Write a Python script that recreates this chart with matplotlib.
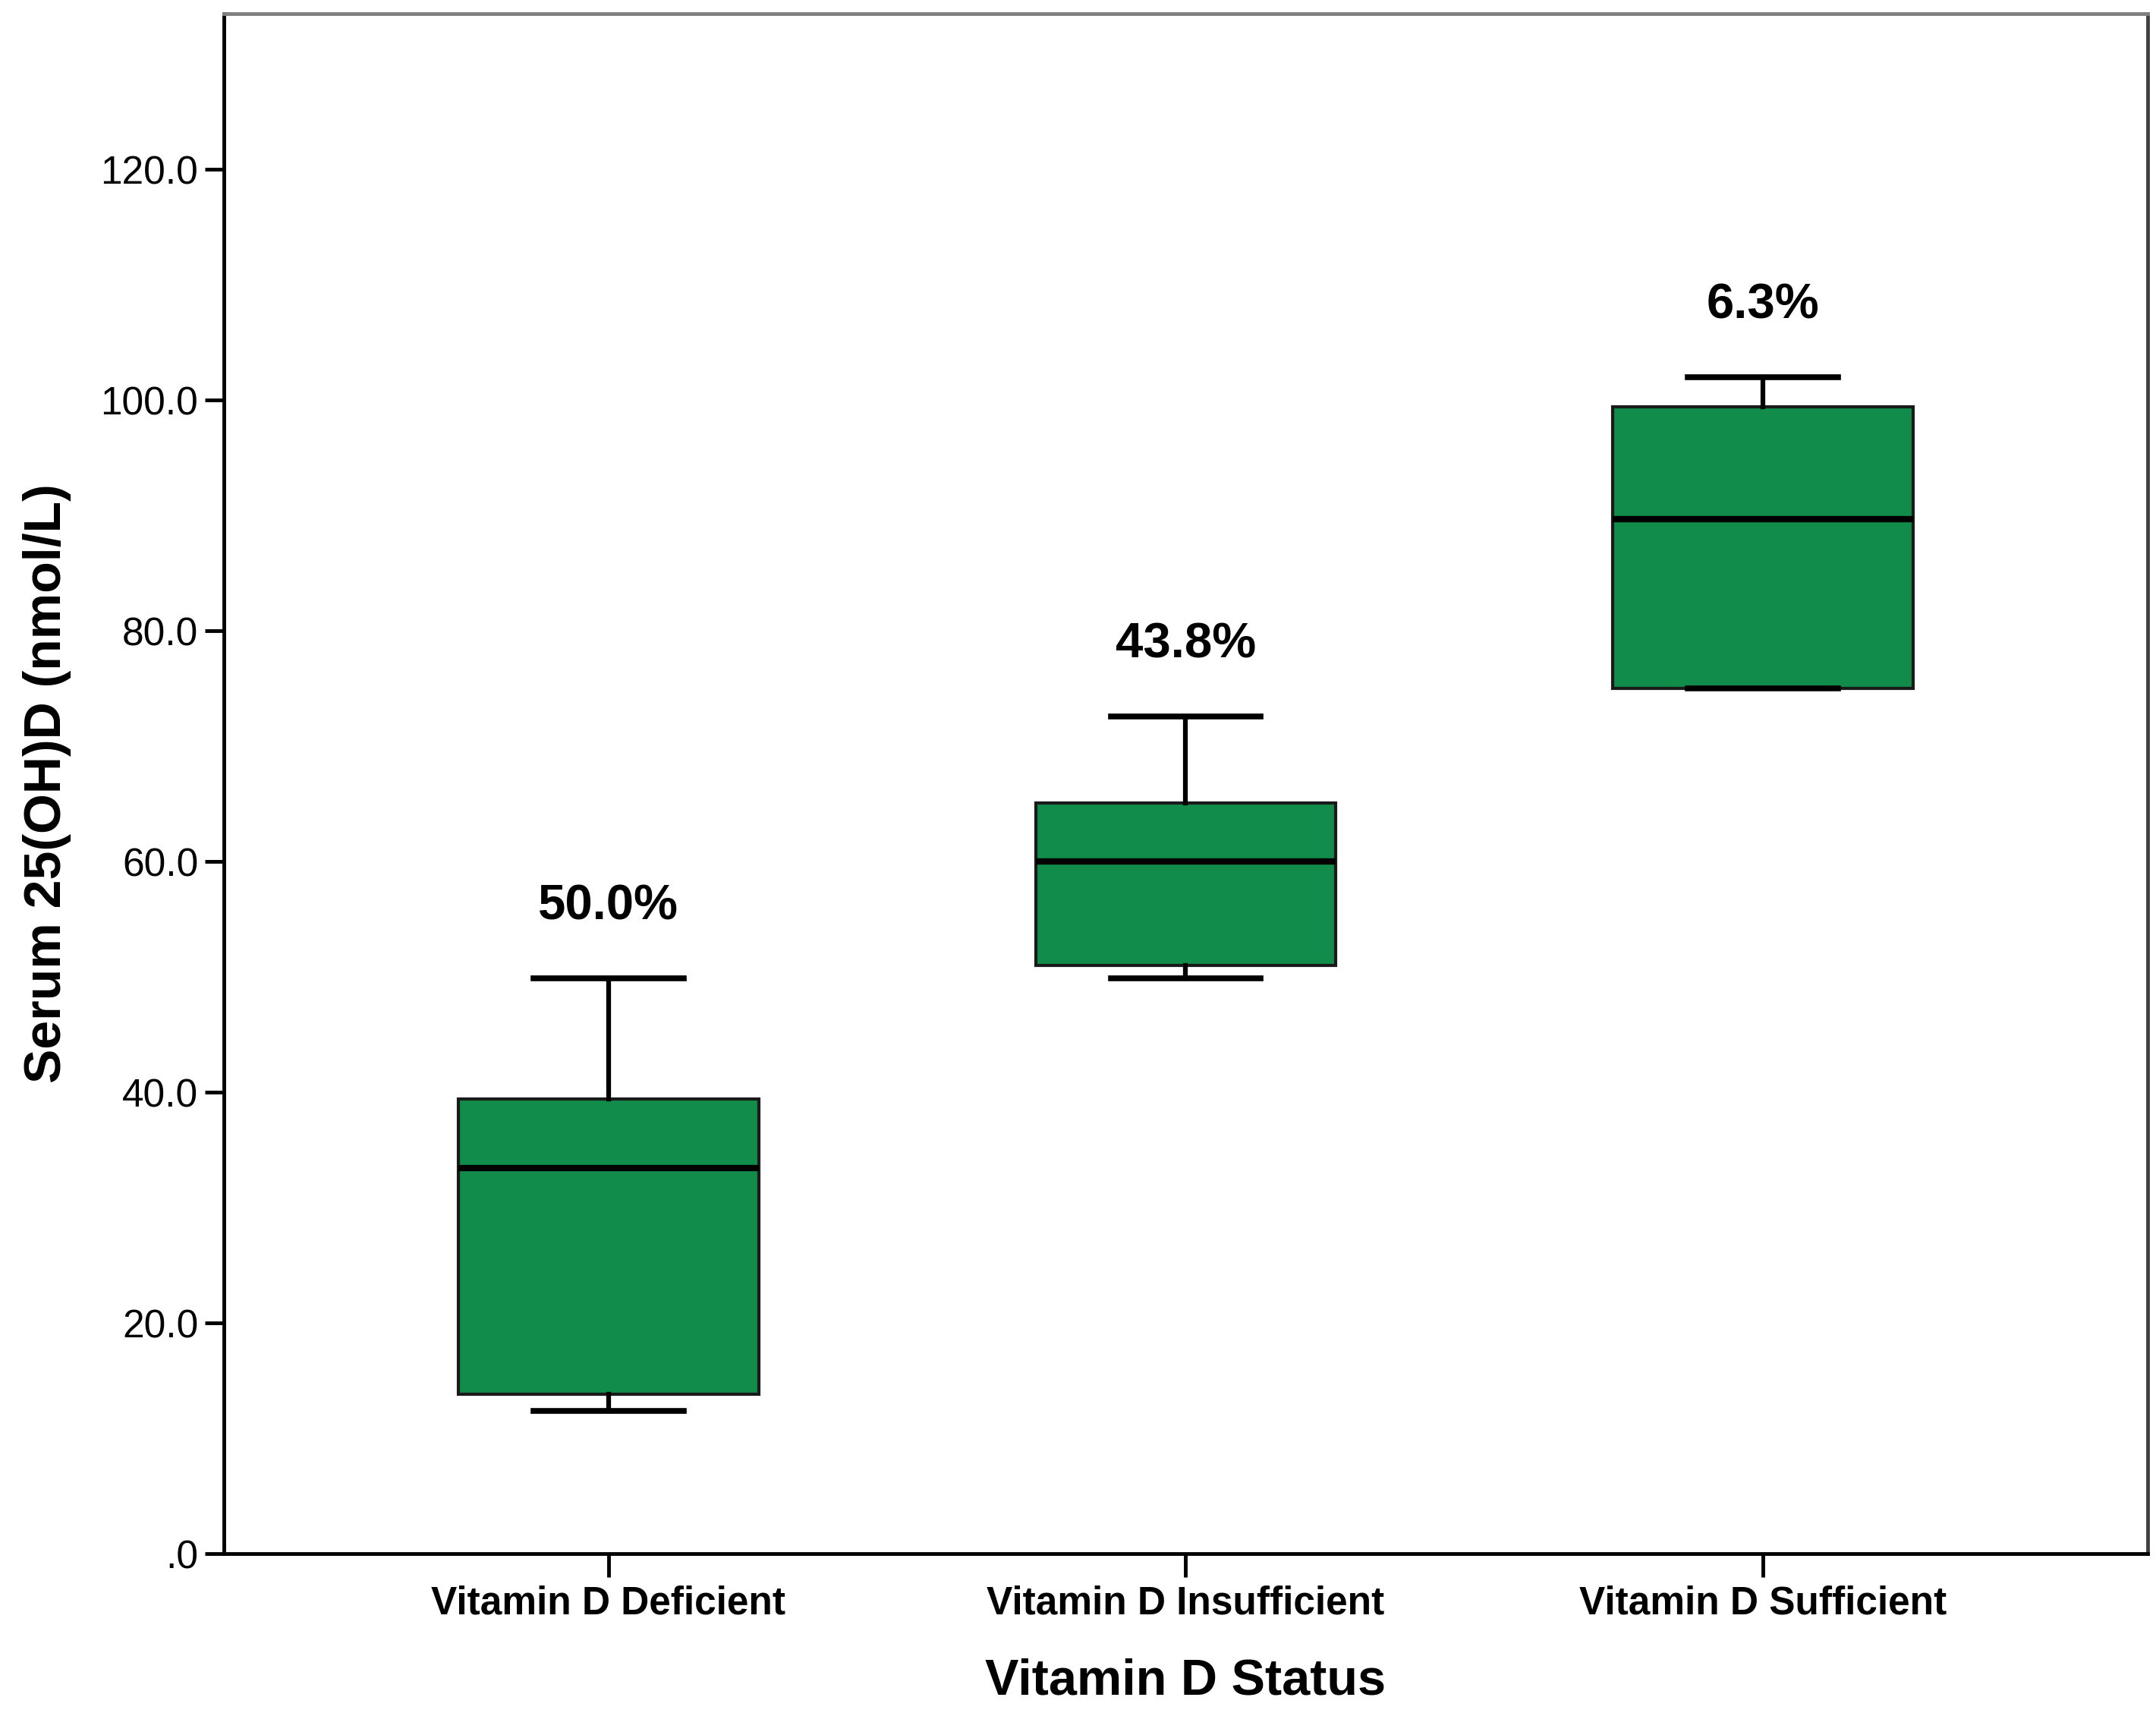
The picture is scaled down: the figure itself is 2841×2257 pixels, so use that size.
import matplotlib
matplotlib.use("Agg")
import matplotlib.pyplot as plt
from matplotlib.ticker import FixedLocator

# values
categories = ["Vitamin D Deficient", "Vitamin D Insufficient", "Vitamin D Sufficient"]
whislo = [12.4, 49.9, 75.0]
q1 = [13.8, 51.0, 75.0]
med = [33.4, 60.0, 89.7]
q3 = [39.4, 65.1, 99.4]
whishi = [49.9, 72.6, 102.0]
pct_labels = ["50.0%", "43.8%", "6.3%"]
yticks = [0, 20, 40, 60, 80, 100, 120]
ytick_labels = [".0", "20.0", "40.0", "60.0", "80.0", "100.0", "120.0"]

green = "#118c4a"

fig = plt.figure(figsize=(28.41, 22.57), dpi=100)
ax = fig.add_axes([0.1037, 0.093, 0.8925, 0.899])

stats = []
for i, name in enumerate(categories):
    stats.append(dict(label=name, whislo=whislo[i], q1=q1[i], med=med[i],
                      q3=q3[i], whishi=whishi[i], fliers=[]))

pos = list(range(len(categories)))
ax.bxp(stats, positions=pos, widths=0.52, patch_artist=True, showfliers=False,
       boxprops=dict(facecolor=green, edgecolor="#1a1a1a", linewidth=3),
       medianprops=dict(color="black", linewidth=6),
       whiskerprops=dict(color="black", linewidth=4.5),
       capprops=dict(color="black", linewidth=5.5),
       capwidths=0.26)

for i, t in enumerate(pct_labels):
    ax.text(pos[i], whishi[i] + 6.2, t, ha="center", va="center",
            fontsize=47, fontweight="bold", family="Liberation Sans")

ax.set_xlim(-0.667, 2.667)
ax.set_ylim(0, 133.5)
ax.yaxis.set_major_locator(FixedLocator(yticks))
ax.set_yticklabels(ytick_labels, family="Liberation Sans", fontsize=37)
ax.set_xticks(pos)
ax.set_xticklabels(categories, fontsize=37, fontweight="bold",
                   family="Liberation Sans")

ax.tick_params(axis="both", direction="out", length=18, width=3.5, pad=6)
ax.tick_params(axis="x", length=22, pad=8)

ax.spines["left"].set_color("black")
ax.spines["bottom"].set_color("black")
ax.spines["top"].set_color("#808080")
ax.spines["right"].set_color("#404040")
for s in ax.spines.values():
    s.set_linewidth(3.5)

ax.set_xlabel("Vitamin D Status", fontsize=48, fontweight="bold",
              family="Liberation Sans", labelpad=34)
ax.set_ylabel("Serum 25(OH)D (nmol/L)", fontsize=49, fontweight="bold",
              family="Liberation Sans", labelpad=28)

fig.savefig("out.png", dpi=100)
